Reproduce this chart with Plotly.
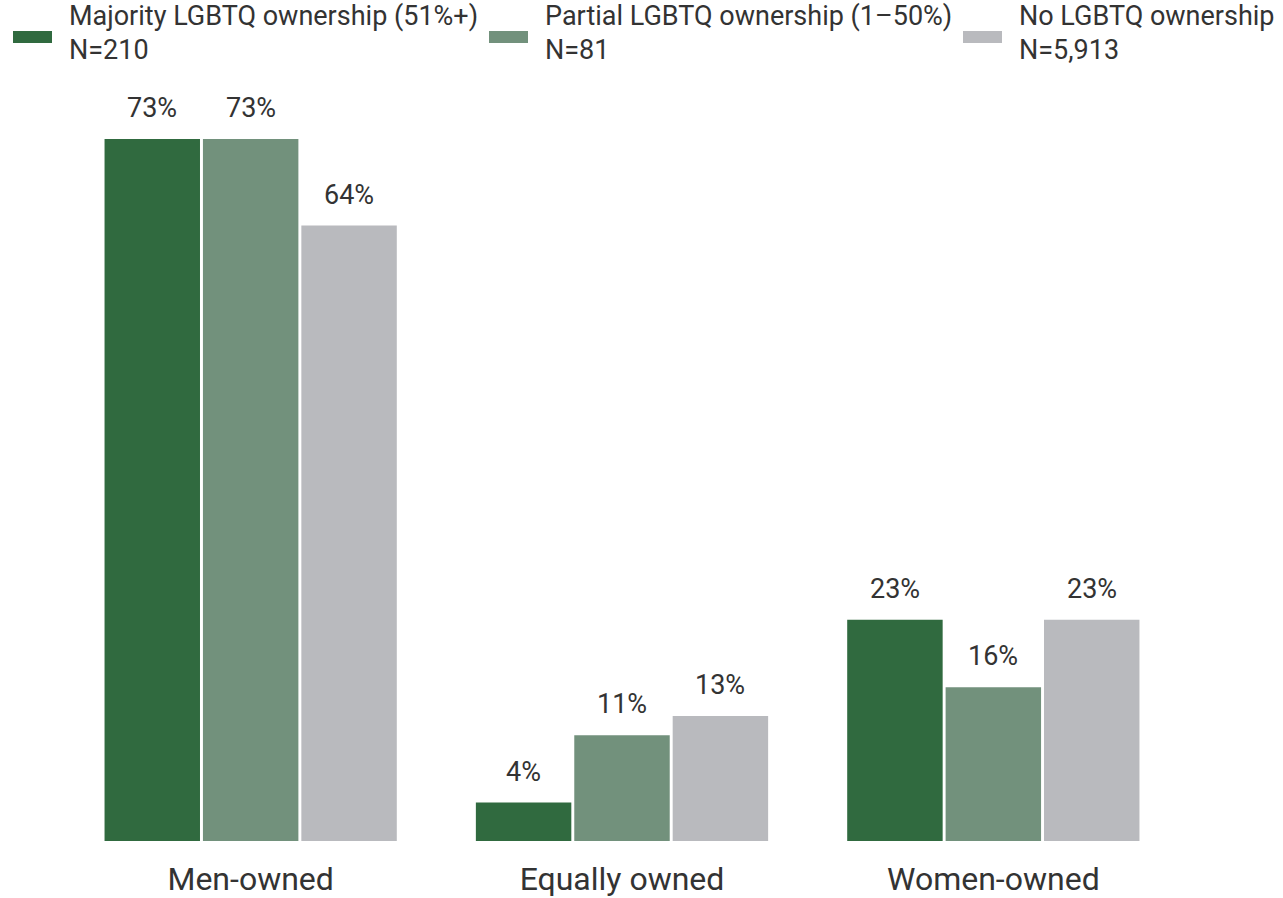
import plotly.graph_objects as go

# Ownership type categories and share of businesses (%) per LGBTQ ownership group
categories = ["Men-owned", "Equally owned", "Women-owned"]
series_names = [
    "Majority LGBTQ ownership (51%+)",
    "Partial LGBTQ ownership (1\u201350%)",
    "No LGBTQ ownership",
]
series_counts = ["N=210", "N=81", "N=5,913"]
majority_lgbtq = [73, 4, 23]
partial_lgbtq = [73, 11, 16]
no_lgbtq = [64, 13, 23]

series_values = [majority_lgbtq, partial_lgbtq, no_lgbtq]
colors = ["#306a3f", "#72917c", "#b9babe"]
text_color = "#333333"
font_family = "Roboto, Arial, sans-serif"

W, H = 1283, 898
M_L, M_R, M_T, M_B = 65, 104, 100, 57
BARGAP = 0.205
GROUPGAP = 0.03
PLOT_W = W - M_L - M_R
PLOT_H = H - M_T - M_B


def px_x(x):
    """Pixel x -> paper x."""
    return (x - M_L) / PLOT_W


def px_y(y):
    """Pixel y (from top) -> paper y."""
    return (H - M_B - y) / PLOT_H


fig = go.Figure()
x_idx = list(range(len(categories)))
for name, vals, col in zip(series_names, series_values, colors):
    fig.add_trace(
        go.Bar(
            x=x_idx,
            y=vals,
            name=name,
            marker=dict(color=col, line=dict(width=0)),
            showlegend=False,
            hoverinfo="skip",
        )
    )

# Value labels above each bar
n_series = len(series_values)
slot = (1 - BARGAP) / n_series
annotations = []
for j, vals in enumerate(series_values):
    for i, v in enumerate(vals):
        annotations.append(
            dict(
                x=i + (j - (n_series - 1) / 2) * slot,
                y=v,
                xref="x",
                yref="y",
                text=f"{v}%",
                showarrow=False,
                yanchor="middle",
                yshift=31,
                font=dict(size=27, color=text_color, family=font_family),
            )
        )

# Legend drawn across the top: swatch + name line above, count line below
shapes = []
legend_swatch_x = [13, 489, 963]
legend_split_y = 33
for j, (name, count, col) in enumerate(zip(series_names, series_counts, colors)):
    sx = legend_swatch_x[j]
    shapes.append(
        dict(
            type="rect",
            xref="paper",
            yref="paper",
            x0=px_x(sx),
            x1=px_x(sx + 39),
            y0=px_y(43),
            y1=px_y(31),
            fillcolor=col,
            line=dict(width=0),
            layer="above",
        )
    )
    for line_text, anchor in ((name, "bottom"), (count, "top")):
        annotations.append(
            dict(
                x=px_x(sx + 55),
                y=px_y(legend_split_y),
                xref="paper",
                yref="paper",
                text=line_text,
                showarrow=False,
                xanchor="left",
                yanchor=anchor,
                borderpad=0,
                font=dict(size=27, color=text_color, family=font_family),
            )
        )

fig.update_layout(
    width=W,
    height=H,
    margin=dict(l=M_L, r=M_R, t=M_T, b=M_B, pad=0, autoexpand=False),
    paper_bgcolor="white",
    plot_bgcolor="white",
    barmode="group",
    bargap=BARGAP,
    bargroupgap=GROUPGAP,
    annotations=annotations,
    shapes=shapes,
    font=dict(family=font_family, color=text_color),
    xaxis=dict(
        tickmode="array",
        tickvals=x_idx,
        ticktext=categories,
        range=[-0.5, len(categories) - 0.5],
        showgrid=False,
        zeroline=False,
        showline=False,
        ticks="",
        automargin=False,
        ticklabelstandoff=16,
        tickfont=dict(size=32, color=text_color, family=font_family),
    ),
    yaxis=dict(
        range=[0, 77.06],
        visible=False,
        showgrid=False,
        zeroline=False,
        automargin=False,
    ),
)

fig.write_html("out.html")
